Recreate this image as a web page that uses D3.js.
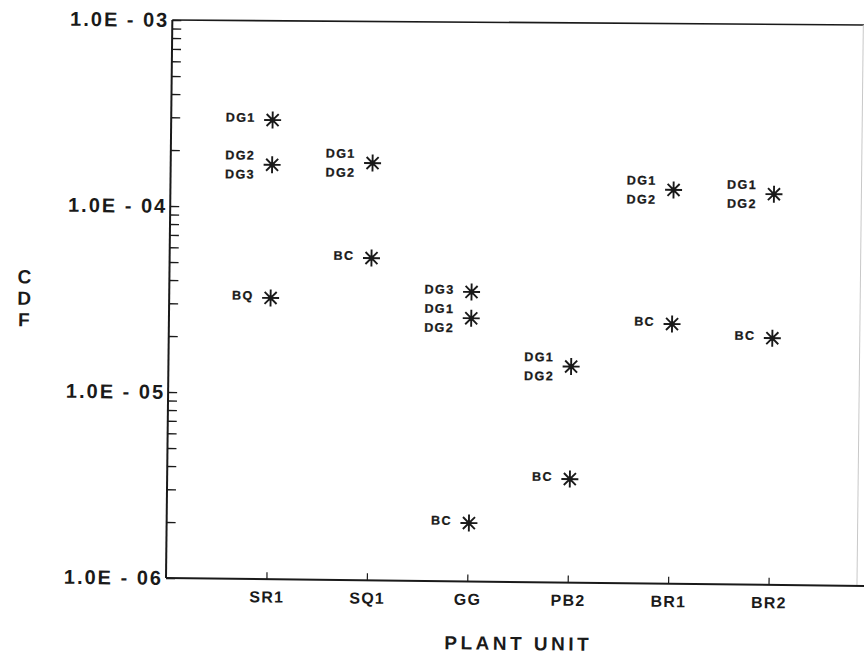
<!DOCTYPE html>
<html>
<head>
<meta charset="utf-8">
<script src="https://cdn.jsdelivr.net/npm/d3@7"></script>
<style>
  body { margin: 0; background: #fff; }
  svg { display: block; font-family: "Liberation Sans", Arial, sans-serif; }
</style>
</head>
<body>
<div id="chart"><svg></svg></div>
<script>
// Plant units along the x axis
const unitNames = ['SR1', 'SQ1', 'GG', 'PB2', 'BR1', 'BR2'];

// One entry per asterisk: unit, CDF value, label lines
const pointUnits = ['SR1', 'SR1', 'SR1', 'SQ1', 'SQ1', 'GG', 'GG', 'GG', 'PB2', 'PB2', 'BR1', 'BR1', 'BR2', 'BR2'];
const pointCdf = [2.94e-4, 1.69e-4, 3.25e-5, 1.75e-4, 5.4e-5, 3.6e-5, 2.6e-5, 2.06e-6, 1.45e-5, 3.6e-6, 1.31e-4, 2.49e-5, 1.26e-4, 2.12e-5];
const pointLabels = [['DG1'], ['DG2', 'DG3'], ['BQ'], ['DG1', 'DG2'], ['BC'], ['DG3'], ['DG1', 'DG2'], ['BC'], ['DG1', 'DG2'], ['BC'], ['DG1', 'DG2'], ['BC'], ['DG1', 'DG2'], ['BC']];

// Y axis
const yDomain = [1e-6, 1e-3];
const yTitle = ['C', 'D', 'F'];
const xTitle = 'PLANT UNIT';

const width = 864;
const height = 657;
const plotLeft = 166, plotBottom = 578, plotTop = 20, plotRight = 857;

const svg = d3.select('#chart').select('svg')
  .attr('width', width)
  .attr('height', height);

svg.append('rect')
  .attr('width', width)
  .attr('height', height)
  .attr('fill', '#fff');

// the scanned page is a little tilted, keep that
const g = svg.append('g')
  .attr('transform', `rotate(0.65, ${plotLeft}, ${plotBottom})`);

const x = d3.scalePoint()
  .domain(unitNames)
  .range([plotLeft, 869])
  .padding(1);

const y = d3.scaleLog()
  .domain(yDomain)
  .range([plotBottom, plotTop]);

const ink = '#1a1a1a';

// frame
g.append('line')
  .attr('x1', plotLeft).attr('x2', 870)
  .attr('y1', plotTop).attr('y2', plotTop - 3)
  .attr('stroke', ink).attr('stroke-width', 1.6);
g.append('line')
  .attr('x1', plotRight).attr('x2', plotRight)
  .attr('y1', plotTop - 3).attr('y2', plotBottom)
  .attr('stroke', '#c8c8c8').attr('stroke-width', 1);
g.append('line')
  .attr('x1', plotLeft).attr('x2', 870)
  .attr('y1', plotBottom).attr('y2', plotBottom)
  .attr('stroke', ink).attr('stroke-width', 2);
g.append('line')
  .attr('x1', plotLeft).attr('x2', plotLeft)
  .attr('y1', plotTop).attr('y2', plotBottom)
  .attr('stroke', ink).attr('stroke-width', 2);

// y axis with log minor ticks pointing inwards
const isDecade = d => Math.abs(Math.log10(d) - Math.round(Math.log10(d))) < 1e-9;
const fmtSci = d => {
  const e = Math.round(Math.log10(d));
  return `1.0E - ${String(Math.abs(e)).padStart(2, '0')}`;
};

const yAxis = g.append('g')
  .attr('transform', `translate(${plotLeft},0)`)
  .call(d3.axisLeft(y)
    .tickValues(y.ticks())
    .tickSizeInner(-9)
    .tickSizeOuter(0)
    .tickPadding(3)
    .tickFormat(d => isDecade(d) ? fmtSci(d) : ''));
yAxis.select('.domain').remove();
yAxis.selectAll('.tick line').attr('stroke', ink).attr('stroke-width', 1.4);
yAxis.selectAll('.tick text')
  .attr('fill', ink)
  .style('font-size', '20px')
  .style('font-weight', 'bold')
  .style('letter-spacing', '2px')
  .style('font-family', '"Liberation Sans", Arial, sans-serif');

// x axis with small upward ticks
const xAxis = g.append('g')
  .attr('transform', `translate(0,${plotBottom})`)
  .call(d3.axisBottom(x)
    .tickSizeInner(-7)
    .tickSizeOuter(0)
    .tickPadding(12));
xAxis.select('.domain').remove();
xAxis.selectAll('.tick line').attr('stroke', ink).attr('stroke-width', 1.2);
xAxis.selectAll('.tick text')
  .attr('fill', ink)
  .style('font-size', '16px')
  .style('font-weight', 'bold')
  .style('letter-spacing', '1.2px')
  .style('font-family', '"Liberation Sans", Arial, sans-serif');

// axis titles
g.append('text')
  .attr('x', 519)
  .attr('y', 646)
  .attr('text-anchor', 'middle')
  .attr('fill', ink)
  .style('font-size', '19px')
  .style('font-weight', 'bold')
  .style('letter-spacing', '3.5px')
  .text(xTitle);

g.append('g')
  .selectAll('text')
  .data(yTitle)
  .enter()
  .append('text')
  .attr('x', 21)
  .attr('y', (d, i) => 285 + i * 21.5)
  .attr('text-anchor', 'middle')
  .attr('fill', ink)
  .style('font-size', '19px')
  .style('font-weight', 'bold')
  .text(d => d);

// asterisk markers
const starR = 8.5;
const starPath = [0, 45, 90, 135].map(a => {
  const r = a * Math.PI / 180;
  const dx = starR * Math.cos(r), dy = starR * Math.sin(r);
  return `M${-dx},${-dy}L${dx},${dy}`;
}).join('');

const pts = pointUnits.map((u, i) => ({
  unit: u,
  cdf: pointCdf[i],
  label: pointLabels[i],
}));

const marks = g.append('g')
  .selectAll('g')
  .data(pts)
  .enter()
  .append('g')
  .attr('transform', d => `translate(${x(d.unit) + 1},${y(d.cdf)})`);

marks.append('path')
  .attr('d', starPath)
  .attr('stroke', ink)
  .attr('stroke-width', 1.9)
  .attr('fill', 'none');
marks.append('circle')
  .attr('r', 2.5)
  .attr('fill', ink);

// labels to the left of each star
marks.each(function (d) {
  const lines = d.label;
  const offsets = lines.length === 1 ? [2] : [-5, 14];
  d3.select(this).selectAll('text')
    .data(lines)
    .enter()
    .append('text')
    .attr('x', -17)
    .attr('y', (t, j) => offsets[j])
    .attr('text-anchor', 'end')
    .attr('fill', ink)
    .attr('stroke', ink)
    .attr('stroke-width', 0.3)
    .style('font-size', '12.5px')
    .style('font-weight', 'bold')
    .style('letter-spacing', '1.4px')
    .text(t => t);
});
</script>
</body>
</html>
